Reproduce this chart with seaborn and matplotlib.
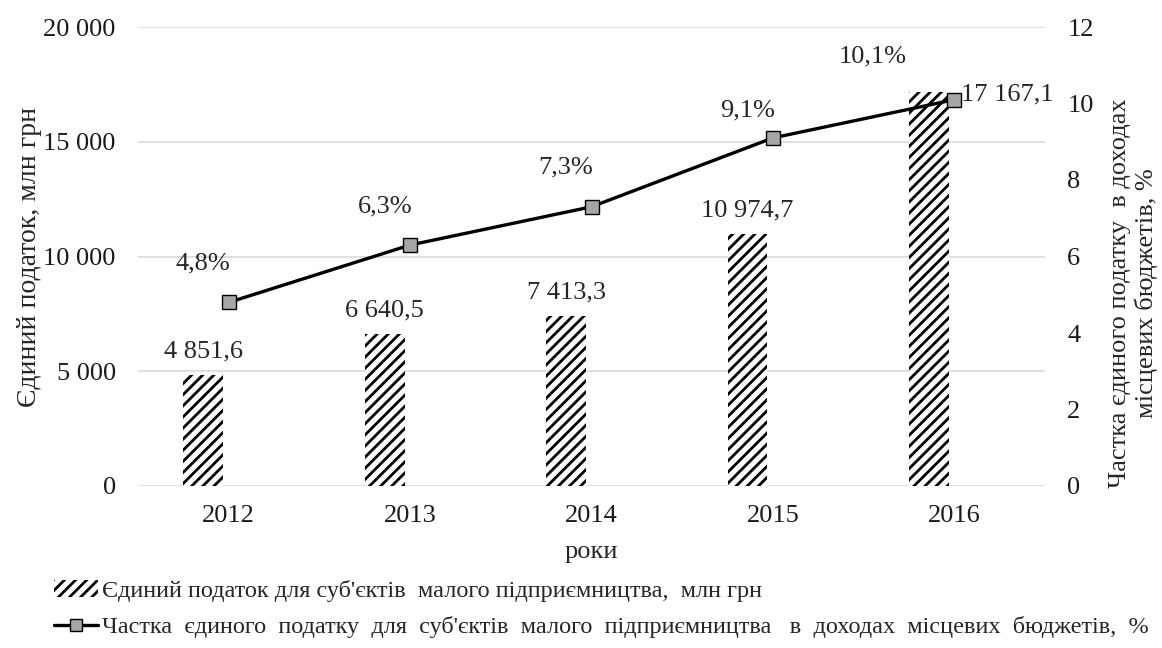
import numpy as np
import pandas as pd
import matplotlib.pyplot as plt
import matplotlib.patches as mpatches
from matplotlib.lines import Line2D
import seaborn as sns

# ── дані ─────────────────────────────────────────────────────────────────────
years = ["2012", "2013", "2014", "2015", "2016"]
tax_mln = [4851.6, 6640.5, 7413.3, 10974.7, 17167.1]
share_pct = [4.8, 6.3, 7.3, 9.1, 10.1]
tax_labels = ["4 851,6", "6 640,5", "7 413,3", "10 974,7", "17 167,1"]
share_labels = ["4,8%", "6,3%", "7,3%", "9,1%", "10,1%"]
left_ticks = [0, 5000, 10000, 15000, 20000]
left_ticklabels = ["0", "5 000", "10 000", "15 000", "20 000"]
right_ticks = [0, 2, 4, 6, 8, 10, 12]

bar_name = "Єдиний податок для суб'єктів  малого підприємництва,  млн грн"
line_name = ("Частка  єдиного  податку  для  суб'єктів  малого  підприємництва   "
             "в  доходах  місцевих  бюджетів,  %")

# як в Excel: поруч зі стовпцем — порожня "прихована" серія
df = pd.DataFrame({
    "year": years * 2,
    "tax": tax_mln + [0.0] * len(years),
    "series": ["tax"] * len(years) + ["hidden"] * len(years),
})

sns.set_theme(style="white")
plt.rcParams["font.family"] = ["Liberation Serif", "DejaVu Serif"]
plt.rcParams["hatch.linewidth"] = 2.0
plt.rcParams["hatch.color"] = "black"

FS = 19
HATCH = "///"

fig = plt.figure(figsize=(11.62, 6.48), dpi=100)
ax = fig.add_axes([138 / 1162, 1 - 486 / 648, 907 / 1162, 459 / 648])

sns.barplot(data=df, x="year", y="tax", hue="series",
            hue_order=["tax", "hidden"], palette=["white", "white"],
            width=0.56, gap=0.214, dodge=True, edgecolor="black",
            linewidth=0, legend=False, ax=ax)
for p in ax.patches:
    p.set_hatch(HATCH)

ax.set_ylim(0, 20000)
ax.set_xlim(-0.5, 4.5)
ax.set_yticks(left_ticks)
ax.set_yticklabels(left_ticklabels)
ax.yaxis.grid(True, color="#d9d9d9", linewidth=1.2)
ax.set_axisbelow(True)
for s in ax.spines.values():
    s.set_visible(False)
ax.tick_params(axis="both", length=0, labelsize=FS, colors="#1a1a1a")
ax.tick_params(axis="x", pad=14)
ax.tick_params(axis="y", pad=16)
ax.set_xlabel("роки", fontsize=FS, labelpad=10)
ax.set_ylabel("Єдиний податок, млн грн", fontsize=20, labelpad=1)

bar_x = np.arange(len(years)) - 0.14
for i, (v, lab) in enumerate(zip(tax_mln, tax_labels)):
    if i == 4:
        continue
    ax.annotate(lab, (bar_x[i], v), xytext=(0, 9), textcoords="offset points",
                ha="center", va="bottom", fontsize=FS)

# ── лінія на правій осі ──────────────────────────────────────────────────────
ax2 = ax.twinx()
x_line = np.arange(len(years))
sns.lineplot(x=x_line, y=share_pct, ax=ax2, color="black", linewidth=2.4,
             marker="s", markersize=9.5, markerfacecolor="#a6a6a6",
             markeredgecolor="black", markeredgewidth=1.0)
ax2.set_ylim(0, 12)
ax2.set_yticks(right_ticks)
for s in ax2.spines.values():
    s.set_visible(False)
ax2.tick_params(axis="y", length=0, labelsize=FS, pad=16, colors="#1a1a1a")
ax2.set_ylabel("Частка єдиного податку  в доходах\nмісцевих бюджетів, %",
               fontsize=19, rotation=90, linespacing=1.15)
ax2.yaxis.set_label_position("right")
ax2.yaxis.set_label_coords(1.071, 0.42)

share_dx = [-0.14, -0.14, -0.14, -0.14, -0.45]
share_dy = [28, 28, 28, 20, 31]
for i, (v, lab) in enumerate(zip(share_pct, share_labels)):
    ax2.annotate(lab, (x_line[i] + share_dx[i], v), xytext=(0, share_dy[i]),
                 textcoords="offset points", ha="center", va="center",
                 fontsize=FS)
# підпис останнього стовпця — праворуч від маркера
ax2.annotate(tax_labels[-1], (x_line[-1], share_pct[-1]), xytext=(5, 4),
             textcoords="offset points", ha="left", va="center", fontsize=FS)

# ── легенда ─────────────────────────────────────────────────────────────────
h_bar = mpatches.Patch(facecolor="white", edgecolor="black", hatch=HATCH,
                       linewidth=0)
h_line = Line2D([0], [0], color="black", linewidth=2.4, marker="s",
                markersize=8, markerfacecolor="#a6a6a6", markeredgecolor="black")
fig.legend([h_bar, h_line], [bar_name, line_name], loc="center left",
           bbox_to_anchor=(0.028, 1 - 609 / 648), frameon=False, fontsize=17.5,
           handlelength=1.8, handletextpad=0.15, labelspacing=0.6)

fig.savefig("out.png", dpi=100)
